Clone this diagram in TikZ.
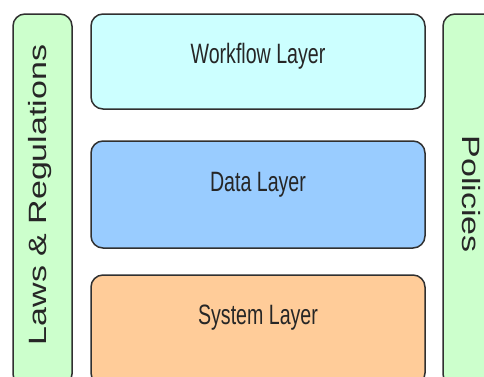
\documentclass[tikz,border=0pt]{standalone}
\usepackage{fontspec}
\setmainfont{Liberation Sans}
\newfontfamily\layerfont[FakeStretch=0.7]{Liberation Sans}
\newfontfamily\sidefont[FakeStretch=1.36]{Liberation Sans}
\usetikzlibrary{positioning}

\definecolor{workflowcol}{HTML}{CCFFFF}
\definecolor{datacol}{HTML}{99CCFF}
\definecolor{systemcol}{HTML}{FFCC99}
\definecolor{sidecol}{HTML}{CCFFCC}
\definecolor{edgecol}{HTML}{303030}

\tikzset{
  layer/.style={rectangle, draw=edgecol, rounded corners=12pt, inner sep=0pt, minimum width=334pt},
  side/.style={rectangle, draw=edgecol, fill=sidecol, rounded corners=12pt, inner sep=0pt, minimum width=59pt, minimum height=372pt},
  layertext/.style={anchor=base, text=black!85, font=\layerfont\fontsize{28}{32}\selectfont},
  sidetext/.style={text=black!85, font=\sidefont\fontsize{25}{30}\selectfont}
}

\begin{document}
\begin{tikzpicture}[x=1pt, y=-1pt, line width=1.5pt]
    \useasboundingbox (0,0) rectangle (484,376);
    \clip (0,0) rectangle (484,376);

    % 左右两侧的竖条：法规与策略
    \node[side] (laws) at (42.5,200) {};
    \node[side] (policies) at (472.5,200) {};
    \node[sidetext, rotate=90] (lawstext) at (40,195) {Laws \& Regulations};
    \node[sidetext, rotate=-90] (policiestext) at (471,194) {Policies};

    % 中间的三层：工作流层、数据层、系统层
    \node[layer, fill=workflowcol, minimum height=95pt] (workflow) at (258,61.5) {};
    \node[layer, fill=datacol, minimum height=107pt] (data) at (258,194.5) {};
    \node[layer, fill=systemcol, minimum height=110pt] (system) at (258,330) {};

    % 各层的名称
    \node[layertext] (workflowtext) at (258,63) {Workflow Layer};
    \node[layertext] (datatext) at (258,191) {Data Layer};
    \node[layertext] (systemtext) at (258,324) {System Layer};
\end{tikzpicture}
\end{document}
